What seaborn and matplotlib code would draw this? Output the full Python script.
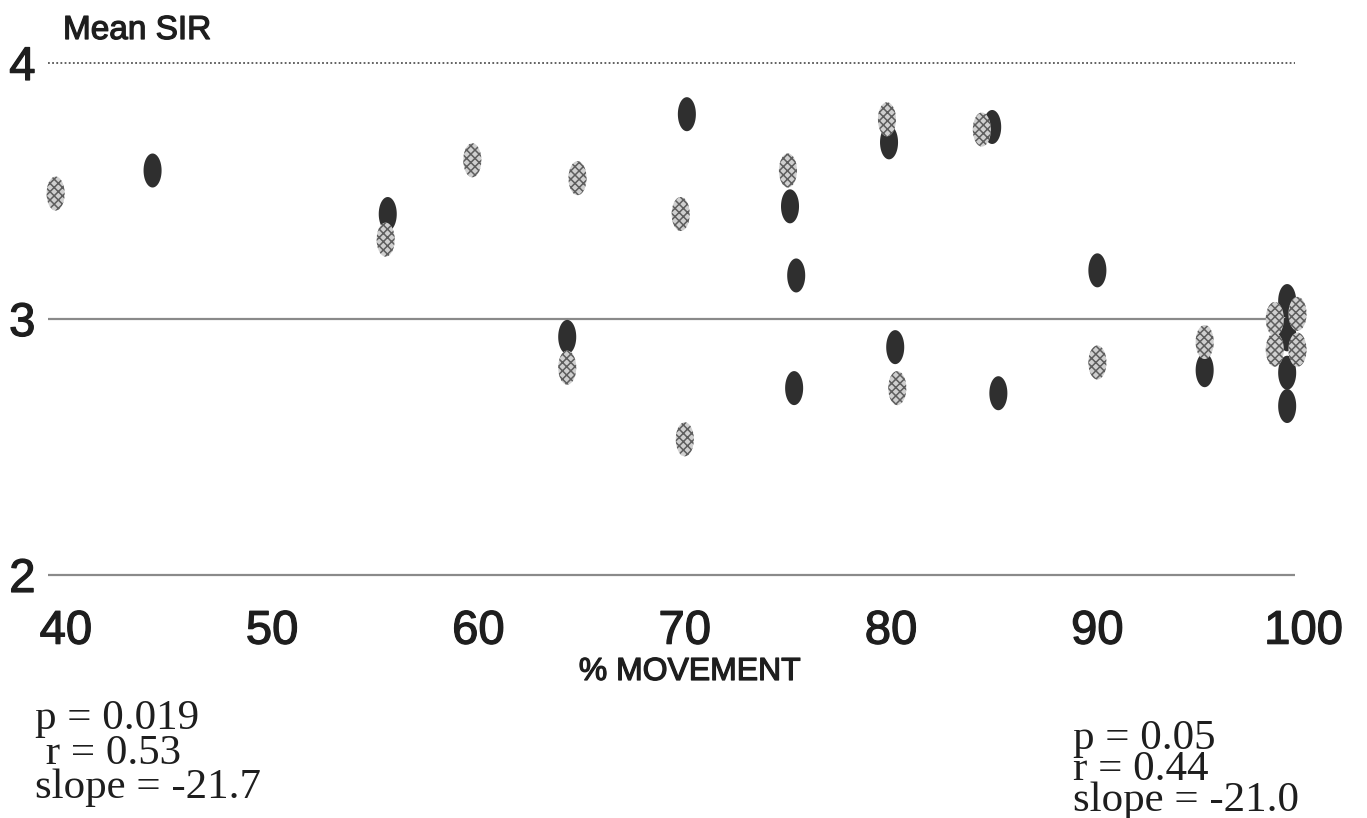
import numpy as np
import pandas as pd
import matplotlib
matplotlib.use("Agg")
import matplotlib.pyplot as plt
import matplotlib.patheffects as pe
import seaborn as sns
from matplotlib.path import Path

# ----------------------------------
# Data
# ----------------------------------

gray_x = [39.5, 59.7, 55.5, 64.8, 64.3, 69.8, 70.0, 75.0, 79.8, 80.3,
          84.4, 90.0, 95.2, 98.6, 98.6, 99.7, 99.7]
gray_y = [3.49, 3.62, 3.31, 3.55, 2.81, 3.41, 2.53, 3.58, 3.78, 2.73,
          3.74, 2.83, 2.91, 3.00, 2.88, 3.02, 2.88]

dark_x = [44.2, 55.6, 64.3, 70.1, 75.1, 75.4, 75.3, 79.9, 80.2, 84.9,
          85.2, 90.0, 95.2, 99.2, 99.2, 99.2, 99.2]
dark_y = [3.58, 3.41, 2.93, 3.80, 3.44, 3.17, 2.73, 3.69, 2.89, 3.75,
          2.71, 3.19, 2.80, 3.07, 2.94, 2.79, 2.66]

x_ticks = [40, 50, 60, 70, 80, 90, 100]
y_ticks = [2, 3, 4]

left_stats = ["p = 0.019", " r = 0.53", "slope = -21.7"]
right_stats = ["p = 0.05", "r = 0.44", "slope = -21.0"]

gray_df = pd.DataFrame({"movement": gray_x, "sir": gray_y})
dark_df = pd.DataFrame({"movement": dark_x, "sir": dark_y})

# ----------------------------------
# Style
# ----------------------------------

sns.set_style("white")
plt.rcParams["font.family"] = ["Liberation Sans", "DejaVu Sans"]
plt.rcParams["hatch.color"] = "#5e5e5e"
plt.rcParams["hatch.linewidth"] = 1.1

ink = "#1e1e1e"
bold_ink = [pe.withStroke(linewidth=0.9, foreground=ink)]

# tall ellipse marker
t = np.linspace(0, 2 * np.pi, 64)
ellipse = Path(np.column_stack([0.53 * np.cos(t), np.sin(t)]), closed=True)

fig = plt.figure(figsize=(13.67, 8.18), dpi=100)
ax = fig.add_axes([0.0351, 0.2971, 0.9305, 0.6259])

x_lo, x_hi = 39.13, 100.79
ax.set_xlim(x_lo, x_hi)
ax.set_ylim(2, 4)

# reference lines
ax.hlines(4, x_lo, 99.57, colors="#555555", linestyles=(0, (1, 1.3)),
          linewidth=1.3, clip_on=False, zorder=1)
ax.hlines(3, x_lo, 99.57, colors="#8a8a8a", linewidth=1.6,
          clip_on=False, zorder=1)
ax.hlines(2, x_lo, 99.57, colors="#8a8a8a", linewidth=1.6,
          clip_on=False, zorder=1)

# ----------------------------------
# Points
# ----------------------------------

sns.scatterplot(
    data=dark_df, x="movement", y="sir", ax=ax,
    marker=ellipse, s=600, color="#2f2f2f",
    edgecolor="none", linewidth=0, zorder=3, clip_on=False
)

sns.scatterplot(
    data=gray_df, x="movement", y="sir", ax=ax,
    marker=ellipse, s=600, color="#cfcfcf", hatch="xxxx",
    edgecolor="none", linewidth=0, zorder=4, clip_on=False
)

# ----------------------------------
# Axes text
# ----------------------------------

sns.despine(ax=ax, left=True, bottom=True)
ax.set_xticks(x_ticks)
ax.set_xticklabels([str(v) for v in x_ticks], fontsize=34)
ax.set_yticks(y_ticks)
ax.set_yticklabels([str(v) for v in y_ticks], fontsize=34)
ax.tick_params(axis="x", length=0, pad=25, colors=ink)
ax.tick_params(axis="y", length=0, pad=9, colors=ink)
for lab in ax.get_xticklabels() + ax.get_yticklabels():
    lab.set_path_effects(bold_ink)
ax.set_xlabel("")
ax.set_ylabel("")

fig.text(63 / 1367, 1 - 39 / 818, "Mean SIR", fontsize=24, color=ink,
         ha="left", va="baseline", path_effects=bold_ink)
fig.text(690 / 1367, 1 - 680 / 818, "% MOVEMENT", fontsize=23, color=ink,
         ha="center", va="baseline", path_effects=bold_ink)

serif = ["Liberation Serif", "DejaVu Serif"]
fig.text(35 / 1367, 1 - 700 / 818, "\n".join(left_stats), fontsize=31,
         family=serif, color=ink, ha="left", va="top", linespacing=0.86)
fig.text(1073 / 1367, 1 - 719 / 818, "\n".join(right_stats), fontsize=31,
         family=serif, color=ink, ha="left", va="top", linespacing=0.76)

fig.savefig("out.png", dpi=100)
plt.close(fig)
